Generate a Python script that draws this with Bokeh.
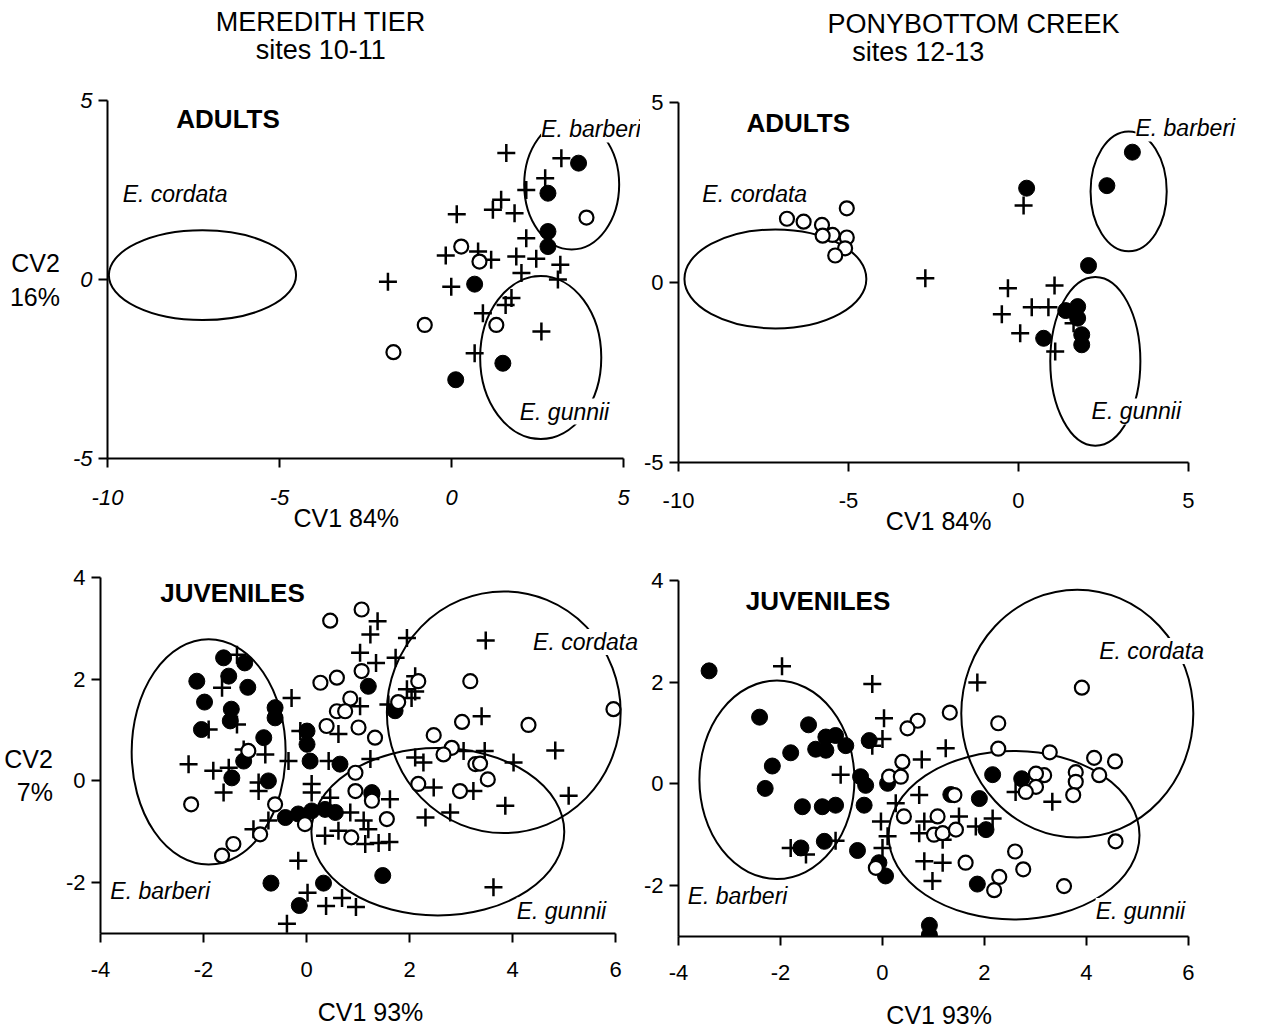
from bokeh.plotting import figure
from bokeh.layouts import column, row
from bokeh.models import Label, FixedTicker
from bokeh.embed import file_html
from bokeh.resources import INLINE

FONT = "Liberation Sans"
NB = "\u00a0"

# ---------------- Panel 1: Meredith Tier, adults ----------------
a1_plus_x = [1.59, 3.19, 2.72, 2.17, 1.44, 1.2, 1.83, 0.15, 2.17, -0.17, 0.77, 1.15, 1.88, 2.46, 3.16, 2.03, 3.09, -1.85, -0.01, 1.74, 1.57, 0.91, 2.61, 0.67]
a1_plus_y = [3.53, 3.39, 2.83, 2.5, 2.23, 1.95, 1.85, 1.82, 1.15, 0.67, 0.78, 0.55, 0.64, 0.58, 0.41, 0.18, 0.0, -0.06, -0.2, -0.52, -0.71, -0.94, -1.45, -2.06]
a1_fill_x = [3.69, 2.8, 2.8, 2.8, 0.67, 1.49, 0.12]
a1_fill_y = [3.25, 2.41, 1.34, 0.92, -0.13, -2.34, -2.8]
a1_open_x = [3.92, 0.28, 0.81, -0.78, 1.3, -1.69]
a1_open_y = [1.73, 0.92, 0.5, -1.27, -1.27, -2.03]
a1_ell_x = [-7.24, 3.49, 2.59]
a1_ell_y = [0.12, 2.65, -2.18]
a1_ell_w = [5.44, 2.76, 3.52]
a1_ell_h = [2.51, 3.63, 4.55]

# ---------------- Panel 2: Ponybottom Creek, adults ----------------
a2_plus_x = [-2.74, 0.15, -0.31, 1.06, -0.49, 0.39, 0.88, 0.05, 1.08, 1.62]
a2_plus_y = [0.12, 2.14, -0.16, -0.08, -0.88, -0.69, -0.69, -1.41, -1.92, -1.13]
a2_fill_x = [3.35, 2.6, 0.24, 2.06, 1.39, 1.74, 1.74, 1.86, 1.86, 0.74]
a2_fill_y = [3.62, 2.69, 2.62, 0.47, -0.78, -0.67, -0.99, -1.45, -1.73, -1.55]
a2_open_x = [-5.05, -6.81, -6.32, -5.78, -5.47, -5.05, -5.76, -5.1, -5.39]
a2_open_y = [2.06, 1.77, 1.69, 1.6, 1.32, 1.25, 1.3, 0.95, 0.75]
a2_ell_x = [-7.15, 3.24, 2.26]
a2_ell_y = [0.1, 2.53, -2.19]
a2_ell_w = [5.35, 2.24, 2.65]
a2_ell_h = [2.75, 3.33, 4.69]

# ---------------- Panel 3: Meredith Tier, juveniles ----------------
j1_fill_x = [-1.61, -1.2, -2.13, -1.51, -1.14, -1.98, -1.46, -0.61, -0.61, -2.04, -1.48, -0.83, 0.01, 0.01, 0.07, -1.22, -1.45, -0.74, 0.65, -0.41, -0.16, 0.1, 0.36, 0.56, -0.69, -0.14, 0.33, 1.48, 1.27, 1.2, 1.72, 1.27]
j1_fill_y = [2.42, 2.32, 1.96, 2.06, 1.84, 1.55, 1.41, 1.44, 1.24, 1.01, 1.18, 0.85, 0.98, 0.72, 0.39, 0.39, 0.06, 0.0, 0.33, -0.72, -0.65, -0.59, -0.56, -0.62, -2.01, -2.45, -2.01, -1.86, -0.26, 1.86, 1.38, -0.23]
j1_plus_x = [-1.35, -1.64, -0.29, -1.9, -1.35, -1.22, -0.8, -2.29, -1.81, -1.51, -1.61, -0.93, -0.93, -0.35, -0.12, 0.1, 0.1, 0.43, 0.46, 0.62, -1.03, -0.74, -0.16, 0.85, 1.11, 1.2, 0.36, 0.62, 1.14, 1.4, 1.61, 1.62, 0.02, 0.38, 0.69, 0.96, -0.38, 1.38, 1.24, 1.95, 1.04, 1.35, 1.73, 2.11, 1.95, 2.11, 2.04, 1.04, 1.59, 1.24, 2.11, 2.27, 2.47, 2.31, 2.79, 3.48, 3.4, 4.83, 5.09, 3.86, 4.02, 3.46, 3.05, 3.24, 3.63]
j1_plus_y = [2.48, 1.83, 1.63, 1.01, 1.11, 0.62, 0.52, 0.33, 0.2, 0.26, -0.23, -0.03, -0.2, 0.39, 0.98, -0.06, -0.23, 0.39, -0.33, 0.92, -0.95, -0.78, -1.57, -0.62, -0.78, -0.95, -1.08, -0.98, -1.24, -1.22, -1.2, -0.36, -2.2, -2.46, -2.3, -2.48, -2.81, 3.14, 2.88, 2.81, 2.52, 2.32, 2.42, 2.06, 1.8, 1.76, 1.63, 1.47, 1.5, 0.43, 0.46, 0.36, -0.13, -0.72, -0.62, 2.76, 1.27, 0.6, -0.29, -0.49, 0.36, 0.59, 0.59, -0.2, -2.09]
j1_open_x = [0.46, 1.07, 0.27, 0.59, 1.07, 0.85, 0.59, 0.75, 0.39, 1.01, -1.13, -2.24, -0.61, -0.03, 0.95, 0.95, 0.87, -0.9, -1.64, -1.42, 1.33, 2.17, 1.78, 3.18, 3.02, 2.47, 2.82, 2.66, 3.28, 2.17, 2.98, 1.27, 1.56, 4.31, 3.37, 3.52, 5.96]
j1_open_y = [3.15, 3.37, 1.93, 2.03, 2.16, 1.62, 1.37, 1.37, 1.08, 1.05, 0.59, -0.46, -0.46, -0.85, 0.16, -0.2, -1.11, -1.05, -1.47, -1.24, 0.85, 1.96, 1.55, 1.96, 1.16, 0.9, 0.65, 0.52, 0.33, -0.06, -0.2, -0.39, -0.75, 1.1, 0.34, 0.03, 1.41]
j1_ell_x = [-1.9, 3.83, 2.55]
j1_ell_y = [0.57, 1.35, -1.0]
j1_ell_w = [2.99, 4.54, 4.91]
j1_ell_h = [4.43, 4.75, 3.29]

# ---------------- Panel 4: Ponybottom Creek, juveniles ----------------
j2_fill_x = [-3.4, -2.41, -1.45, -1.11, -0.92, -1.31, -1.11, -0.72, -1.8, -0.26, -2.16, -2.3, -0.43, -0.33, 0.1, -1.57, -1.18, -0.92, -0.36, -1.6, -1.14, -0.49, -0.07, 0.06, 2.16, 2.73, 1.9, 1.34, 2.03, 1.86, 0.92, 0.92]
j2_fill_y = [2.22, 1.31, 1.16, 0.92, 0.95, 0.68, 0.66, 0.75, 0.61, 0.85, 0.35, -0.09, 0.14, -0.03, 0.01, -0.45, -0.45, -0.42, -0.42, -1.26, -1.13, -1.31, -1.55, -1.81, 0.18, 0.1, -0.29, -0.21, -0.9, -1.97, -2.78, -2.97]
j2_plus_x = [-1.97, -0.2, 0.03, 0.0, -0.2, -0.82, -0.03, 0.1, -1.8, -1.5, -0.92, 1.24, 0.77, 1.86, 0.72, 0.26, 0.0, 0.82, 0.72, 1.5, 1.18, 1.83, 2.16, 0.82, 1.18, 0.98, 2.61, 3.33]
j2_plus_y = [2.31, 1.96, 1.29, 0.88, 0.75, 0.18, -0.74, -1.03, -1.26, -1.39, -1.12, 0.7, 0.48, 1.99, -0.22, -0.38, -1.26, -0.74, -0.97, -0.64, -1.1, -0.84, -0.68, -1.52, -1.55, -1.91, -0.16, -0.35]
j2_open_x = [-0.13, 0.13, 3.91, 1.32, 0.69, 0.49, 2.27, 2.27, 3.28, 4.15, 4.56, 4.25, 3.79, 3.79, 3.74, 3.17, 3.01, 3.01, 2.81, 0.39, 0.36, 0.42, 1.08, 1.01, 1.18, 1.44, 1.63, 1.41, 4.57, 2.6, 2.76, 2.29, 2.19, 3.56]
j2_open_y = [-1.65, 0.14, 1.89, 1.4, 1.24, 1.09, 1.19, 0.69, 0.62, 0.51, 0.44, 0.17, 0.23, 0.04, -0.22, 0.17, 0.2, -0.06, -0.16, 0.43, 0.14, -0.64, -0.64, -1.0, -0.97, -0.9, -1.55, -0.22, -1.13, -1.33, -1.68, -1.83, -2.09, -2.01]
j2_ell_x = [-2.07, 3.82, 2.58]
j2_ell_y = [0.08, 1.38, -1.01]
j2_ell_w = [3.04, 4.55, 4.92]
j2_ell_h = [3.9, 4.87, 3.31]

# ---------------- texts ----------------
site_titles = ["MEREDITH TIER", "PONYBOTTOM CREEK"]
site_subtitles = ["sites 10-11", "sites 12-13"]
x_labels = ["CV1 84%" + NB * 8, "CV1 84%" + NB * 6, "CV1 93%", "CV1 93%" + NB * 6]
y_labels = ["\n\n\nCV2\n16%", None, "\n\nCV2\n7%", None]


def make_panel(xr, yr, xb, yb, xticks, yticks, borders, frame, tick_standoff, label_standoff,
               italic_ticks=False):
    left, right, top, bottom = borders
    p = figure(x_range=xr, y_range=yr, frame_width=frame[0], frame_height=frame[1],
               min_border_left=left, min_border_right=right,
               min_border_top=top, min_border_bottom=bottom, title=None,
               output_backend="svg", toolbar_location=None,
               background_fill_color="white", border_fill_color="white")
    p.outline_line_color = None
    p.xgrid.visible = False
    p.ygrid.visible = False
    for ax in (p.xaxis[0], p.yaxis[0]):
        ax.axis_line_width = 2
        ax.axis_line_color = "black"
        ax.major_tick_line_width = 2
        ax.major_tick_line_color = "black"
        ax.major_tick_out = 9
        ax.major_tick_in = 0
        ax.minor_tick_out = 0
        ax.minor_tick_in = 0
        ax.major_label_text_font = FONT
        ax.major_label_text_font_size = "22px"
        ax.major_label_text_color = "black"
        ax.axis_label_text_font = FONT
        ax.axis_label_text_font_size = "25px"
        ax.axis_label_text_font_style = "normal"
        ax.axis_label_text_color = "black"
        if italic_ticks:
            ax.major_label_text_font_style = "italic"
    p.xaxis.bounds = xb
    p.yaxis.bounds = yb
    p.xaxis.ticker = FixedTicker(ticks=xticks)
    p.yaxis.ticker = FixedTicker(ticks=yticks)
    p.xaxis.major_label_overrides = {t: str(t) for t in xticks}
    p.yaxis.major_label_overrides = {t: str(t) for t in yticks}
    p.xaxis.major_label_standoff = tick_standoff
    p.xaxis.axis_label_standoff = label_standoff
    p.yaxis.major_label_standoff = 6
    p.yaxis.axis_label_standoff = 10
    return p


def add_points(p, px, py, fx, fy, ox, oy):
    p.scatter(px, py, marker="cross", size=18, line_color="black", line_width=2.5)
    p.scatter(fx, fy, marker="circle", size=16, fill_color="black", line_color="black")
    p.scatter(ox, oy, marker="circle", size=14, fill_color="white", line_color="black", line_width=2.2)


def add_ellipses(p, ex, ey, ew, eh):
    p.ellipse(ex, ey, width=ew, height=eh, fill_color=None, line_color="black", line_width=2)


def species(p, x, y, text):
    p.add_layout(Label(x=x, y=y, text=text, text_font=FONT, text_font_style="italic",
                       text_font_size="23px", text_baseline="middle", text_color="black",
                       background_fill_color="white", background_fill_alpha=1.0))


def stage(p, x, y, text):
    p.add_layout(Label(x=x, y=y, text=text, text_font=FONT, text_font_style="bold",
                       text_font_size="26px", text_baseline="middle", text_color="black"))


def heading(p, x, y, text):
    p.add_layout(Label(x=x, y=y, text=text, text_font=FONT, text_font_size="27px",
                       text_align="center", text_baseline="middle", text_color="black"))


# Panel 1
p1 = make_panel((-10, 5.49), (-5, 7.793), (-10, 5), (-5, 5), [-10, -5, 0, 5], [-5, 0, 5],
                (107, 0, 0, 82), (533, 458), 22, -4, italic_ticks=True)
add_ellipses(p1, a1_ell_x, a1_ell_y, a1_ell_w, a1_ell_h)
add_points(p1, a1_plus_x, a1_plus_y, a1_fill_x, a1_fill_y, a1_open_x, a1_open_y)
heading(p1, -3.8, 7.18, site_titles[0])
heading(p1, -3.8, 6.40, site_subtitles[0])
stage(p1, -8.0, 4.47, "ADULTS")
species(p1, -9.56, 2.4, "E. cordata")
species(p1, 2.6, 4.19, "E. barberi")
species(p1, 1.98, -3.69, "E. gunnii")
p1.xaxis.axis_label = x_labels[0]
p1.yaxis.axis_label = y_labels[0]
p1.yaxis.axis_label_orientation = "horizontal"

# Panel 2
p2 = make_panel((-10, 6.53), (-5, 7.833), (-10, 5), (-5, 5), [-10, -5, 0, 5], [-5, 0, 5],
                (38, 25, 0, 78), (562, 462), 21, -4)
add_ellipses(p2, a2_ell_x, a2_ell_y, a2_ell_w, a2_ell_h)
add_points(p2, a2_plus_x, a2_plus_y, a2_fill_x, a2_fill_y, a2_open_x, a2_open_y)
heading(p2, -1.32, 7.17, site_titles[1])
heading(p2, -2.95, 6.39, site_subtitles[1])
stage(p2, -8.0, 4.44, "ADULTS")
species(p2, -9.3, 2.47, "E. cordata")
species(p2, 3.44, 4.28, "E. barberi")
species(p2, 2.15, -3.58, "E. gunnii")
p2.xaxis.axis_label = x_labels[1]

# Panel 3
p3 = make_panel((-4, 6.485), (-3, 4.53), (-4, 6), (-3, 4), [-4, -2, 0, 2, 4, 6], [-2, 0, 2, 4],
                (100, 0, 10, 94), (540, 383), 19, 18)
add_ellipses(p3, j1_ell_x, j1_ell_y, j1_ell_w, j1_ell_h)
add_points(p3, j1_plus_x, j1_plus_y, j1_fill_x, j1_fill_y, j1_open_x, j1_open_y)
stage(p3, -2.84, 3.69, "JUVENILES")
species(p3, 4.4, 2.73, "E. cordata")
species(p3, -3.81, -2.16, "E. barberi")
species(p3, 4.08, -2.55, "E. gunnii")
p3.xaxis.axis_label = x_labels[2]
p3.yaxis.axis_label = y_labels[2]
p3.yaxis.axis_label_orientation = "horizontal"

# Panel 4
p4 = make_panel((-4, 7.04), (-3, 4.585), (-4, 6), (-3, 4), [-4, -2, 0, 2, 4, 6], [-2, 0, 2, 4],
                (37, 25, 10, 91), (563, 386), 19, 18)
add_ellipses(p4, j2_ell_x, j2_ell_y, j2_ell_w, j2_ell_h)
add_points(p4, j2_plus_x, j2_plus_y, j2_fill_x, j2_fill_y, j2_open_x, j2_open_y)
stage(p4, -2.68, 3.6, "JUVENILES")
species(p4, 4.25, 2.61, "E. cordata")
species(p4, -3.82, -2.2, "E. barberi")
species(p4, 4.18, -2.5, "E. gunnii")
p4.xaxis.axis_label = x_labels[3]

layout = column(row(p1, p2, spacing=0), row(p3, p4, spacing=0), spacing=0)

open("out.html", "w").write(file_html(layout, INLINE))
